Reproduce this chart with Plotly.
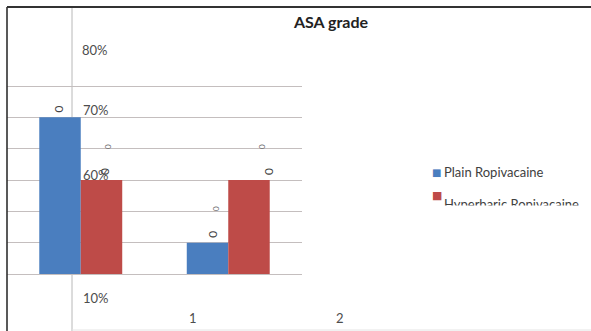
import plotly.graph_objects as go

# ASA grade distribution per group (percent of patients)
grades = [0, 1]
x_labels = ["1", "2"]
plain = [50, 10]
hyperbaric = [30, 30]
series_names = ["Plain Ropivacaine", "Hyperbaric Ropivacaine"]
axis_labels = ["80%", "70%", "60%", "10%"]
bar_value_text = ["0", "0", "0", "0"]

W, H = 591, 331
BLUE = "#4A7EBF"
RED = "#BE4B48"
GRID = "#c4bebe"
TXT = "#4d4d4d"
FONT = "Lato"

X0, X1 = 7, 302          # horizontal extent of the plotting area (px)
X_RANGE = [-0.5, 1.5]
Y_BASE, Y_TOP = 274, 80  # vertical extent of the plotting area (px)
PX_PER_UNIT = 31.33 / 10


def px(x):
    return x / W


def py(y):
    return 1 - y / H


def x_to_paper(v):
    frac = (v - X_RANGE[0]) / (X_RANGE[1] - X_RANGE[0])
    return px(X0) + frac * (px(X1) - px(X0))


fig = go.Figure()
fig.add_trace(go.Bar(x=grades, y=plain, name=series_names[0],
                     marker=dict(color=BLUE, line=dict(width=0)), showlegend=False))
fig.add_trace(go.Bar(x=grades, y=hyperbaric, name=series_names[1],
                     marker=dict(color=RED, line=dict(width=0)), showlegend=False))

annotations = []

# stray percentage labels along the value axis
label_pos = [(80, 50), (81, 110), (81, 175), (81, 298)]
for text, (lx, ly) in zip(axis_labels, label_pos):
    annotations.append(dict(xref="paper", yref="paper", x=px(lx), y=py(ly),
                            xanchor="left", yanchor="middle", showarrow=False,
                            text=text, font=dict(family=FONT, size=13, color=TXT)))

# category labels, offset to the right of each group
for g, text in zip(grades, x_labels):
    annotations.append(dict(xref="paper", yref="paper", x=x_to_paper(g + 0.76), y=py(318),
                            xanchor="center", yanchor="middle", showarrow=False,
                            text=text, font=dict(family=FONT, size=13, color=TXT)))

# rotated value labels above the bars
bar_tops = [(grades[0], plain[0], -0.154), (grades[0], hyperbaric[0], 0.158),
            (grades[1], plain[1], -0.103), (grades[1], hyperbaric[1], 0.27)]
for text, (gx, val, off) in zip(bar_value_text, bar_tops):
    annotations.append(dict(xref="x", yref="y", x=gx + off, y=val, yshift=8,
                            showarrow=False, textangle=-90, text=text,
                            font=dict(family=FONT, size=12, color="#444")))

# tiny clipped label fragments sitting on the gridlines
for fx, fy in [(101, 147), (216, 209), (262, 147)]:
    annotations.append(dict(xref="paper", yref="paper", x=px(fx), y=py(fy),
                            showarrow=False, textangle=-90, text="0",
                            font=dict(family=FONT, size=8, color="#666")))

# legend entries
legend_rows = [(172, 172, 10), (195, 204, 11)]
for name, color, (my, ty, ms) in zip(series_names, [BLUE, RED], legend_rows):
    annotations.append(dict(xref="paper", yref="paper", x=px(430), y=py(my),
                            xanchor="left", yanchor="middle", showarrow=False,
                            text="■", font=dict(family="DejaVu Sans", size=ms, color=color)))
    annotations.append(dict(xref="paper", yref="paper", x=px(442), y=py(ty),
                            xanchor="left", yanchor="middle", showarrow=False,
                            text=name, font=dict(family=FONT, size=13, color="#404040")))
# lower half of the second legend entry is cut away
annotations.append(dict(xref="paper", yref="paper", x=px(438), y=py(205),
                        xanchor="left", yanchor="top", showarrow=False, text=" ",
                        width=160, height=16, bgcolor="white", borderpad=0))

shapes = [
    # inner value-axis line
    dict(type="line", xref="paper", yref="paper", x0=px(72), x1=px(72),
         y0=0, y1=py(7), line=dict(color="#b8b8b8", width=1), layer="below"),
    # outer frame
    dict(type="line", xref="paper", yref="paper", x0=px(7), x1=px(7),
         y0=0, y1=py(7), line=dict(color="#222", width=1.5)),
    dict(type="line", xref="paper", yref="paper", x0=px(7), x1=1,
         y0=py(7), y1=py(7), line=dict(color="#333", width=2)),
    dict(type="line", xref="paper", yref="paper", x0=px(72), x1=1,
         y0=py(330), y1=py(330), line=dict(color="#e4e4e4", width=1)),
]

fig.update_layout(
    width=W, height=H,
    margin=dict(l=0, r=0, t=0, b=0),
    paper_bgcolor="white", plot_bgcolor="white",
    barmode="group", bargap=0.4375, bargroupgap=0,
    title=dict(text="<b>ASA grade</b>", x=px(331), xanchor="center",
               y=py(22), yanchor="middle",
               font=dict(family=FONT, size=16, color="#222")),
    xaxis=dict(domain=[px(X0), px(X1)], range=X_RANGE, showticklabels=False,
               showgrid=False, zeroline=False, showline=False, ticks=""),
    yaxis=dict(domain=[py(Y_BASE), py(Y_TOP)],
               range=[0, (Y_BASE - Y_TOP) / PX_PER_UNIT], dtick=10,
               showticklabels=False, showgrid=True, gridcolor=GRID, gridwidth=1,
               zeroline=True, zerolinecolor=GRID, zerolinewidth=1,
               showline=False, ticks=""),
    annotations=annotations,
    shapes=shapes,
)

fig.write_html("out.html")
